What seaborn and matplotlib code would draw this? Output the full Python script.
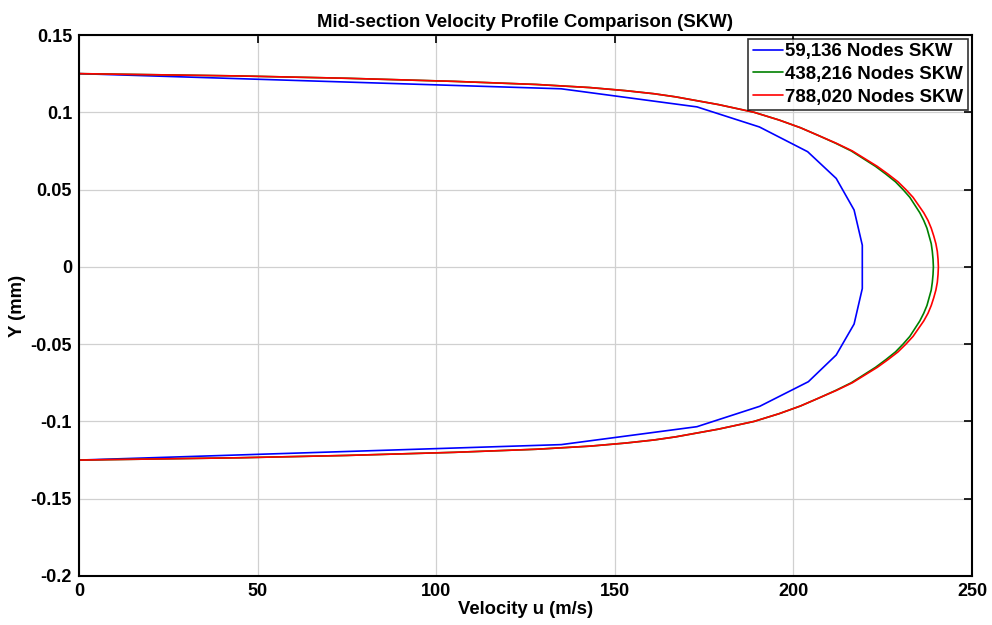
import matplotlib
matplotlib.use("Agg")
import matplotlib.pyplot as plt
import seaborn as sns
import pandas as pd

# ---- data ----
blue_y = [0.125, 0.1152, 0.1035, 0.0905, 0.0745, 0.0572, 0.0368, 0.0140,
          -0.0140, -0.0370, -0.0570, -0.0743, -0.0902, -0.1034, -0.1150, -0.125]
blue_u = [0.0, 135.0, 173.0, 190.5, 204.0, 212.0, 217.0, 219.3,
          219.3, 217.0, 212.0, 204.2, 190.6, 173.0, 135.0, 0.0]

fine_y = [0.125, 0.1235, 0.122, 0.120, 0.118, 0.116, 0.114, 0.112, 0.110,
          0.105, 0.100, 0.095, 0.090, 0.085, 0.080, 0.075, 0.070, 0.065,
          0.060, 0.055, 0.050, 0.045, 0.040, 0.035, 0.030, 0.025, 0.020,
          0.015, 0.010, 0.005, 0.000,
          -0.005, -0.010, -0.015, -0.020, -0.025, -0.030, -0.035, -0.040,
          -0.045, -0.050, -0.055, -0.060, -0.065, -0.070, -0.075, -0.080,
          -0.085, -0.090, -0.095, -0.100, -0.105, -0.110, -0.112, -0.114,
          -0.116, -0.118, -0.120, -0.122, -0.1235, -0.125]

red_u = [0.0, 45.0, 75.0, 105.0, 128.0, 143.0, 153.0, 161.0, 167.0,
         179.0, 189.0, 196.0, 202.0, 207.0, 212.0, 216.5, 220.0, 223.5,
         226.5, 229.3, 231.5, 233.5, 235.0, 236.5, 237.7, 238.6, 239.3,
         239.9, 240.3, 240.5, 240.6,
         240.5, 240.3, 239.9, 239.3, 238.6, 237.7, 236.5, 235.0,
         233.5, 231.5, 229.3, 226.5, 223.5, 220.0, 216.5, 212.0,
         207.0, 202.0, 196.0, 189.0, 179.0, 167.0, 161.0, 153.0,
         143.0, 128.0, 105.0, 75.0, 45.0, 0.0]

green_u = [0.0, 45.0, 75.0, 105.0, 128.0, 143.0, 153.0, 161.0, 167.0,
           179.0, 189.0, 196.0, 202.0, 207.0, 211.8, 216.2, 219.6, 223.0,
           225.9, 228.6, 230.7, 232.6, 234.0, 235.4, 236.5, 237.4, 238.0,
           238.6, 238.9, 239.1, 239.2,
           239.1, 238.9, 238.6, 238.0, 237.4, 236.5, 235.4, 234.0,
           232.6, 230.7, 228.6, 225.9, 223.0, 219.6, 216.2, 211.8,
           207.0, 202.0, 196.0, 189.0, 179.0, 167.0, 161.0, 153.0,
           143.0, 128.0, 105.0, 75.0, 45.0, 0.0]

labels = ["59,136 Nodes SKW", "438,216 Nodes SKW", "788,020 Nodes SKW"]
colors = ["#0000ff", "#008000", "#ff0000"]

x_ticks = [0, 50, 100, 150, 200, 250]
y_ticks = [-0.2, -0.15, -0.1, -0.05, 0, 0.05, 0.1, 0.15]
y_tick_labels = ["-0.2", "-0.15", "-0.1", "-0.05", "0", "0.05", "0.1", "0.15"]

frames = []
for lab, uu, yy in [(labels[0], blue_u, blue_y),
                    (labels[1], green_u, fine_y),
                    (labels[2], red_u, fine_y)]:
    frames.append(pd.DataFrame({"u": uu, "y": yy, "series": lab}))
df = pd.concat(frames, ignore_index=True)

sns.set_style("white")
plt.rcParams["font.family"] = ["Liberation Sans", "DejaVu Sans"]
plt.rcParams["font.weight"] = "bold"
plt.rcParams["text.color"] = "black"
plt.rcParams["axes.labelcolor"] = "black"
plt.rcParams["xtick.color"] = "black"
plt.rcParams["ytick.color"] = "black"

fig = plt.figure(figsize=(9.92, 6.25), dpi=100)
ax = fig.add_axes([0.0796, 0.0784, 0.9002, 0.8656])

sns.lineplot(data=df, x="u", y="y", hue="series", hue_order=labels,
             palette=colors, sort=False, estimator=None, units="series",
             linewidth=1.2, ax=ax)

ax.set_xlim(0, 250)
ax.set_ylim(-0.2, 0.15)
ax.set_xticks(x_ticks)
ax.set_xticklabels([str(t) for t in x_ticks])
ax.set_yticks(y_ticks)
ax.set_yticklabels(y_tick_labels)
ax.grid(True, color="#d0d0d0", linewidth=0.9)
ax.set_axisbelow(True)
for s in ax.spines.values():
    s.set_color("black")
    s.set_linewidth(1.5)
ax.tick_params(direction="in", length=6, width=1.2, top=True, right=True,
               labelsize=13, colors="black", pad=5)
for t in ax.get_xticklabels() + ax.get_yticklabels():
    t.set_fontweight("bold")
    t.set_color("black")

ax.set_xlabel("Velocity u (m/s)", fontsize=13.3, fontweight="bold",
              labelpad=1, color="black")
ax.set_ylabel("Y (mm)", fontsize=13.3, fontweight="bold", labelpad=3,
              color="black")
ax.set_title("Mid-section Velocity Profile Comparison (SKW)", fontsize=13.4,
             fontweight="bold", pad=6, color="black")

leg = ax.legend(loc="upper right", fontsize=13.4, frameon=True, fancybox=False,
                borderaxespad=0.2, handlelength=1.6, handletextpad=0.15,
                labelspacing=0.3, borderpad=0.25)
leg.get_frame().set_edgecolor("black")
leg.get_frame().set_linewidth(1.2)
for t in leg.get_texts():
    t.set_fontweight("bold")
    t.set_color("black")

fig.savefig("out.png", dpi=100)
